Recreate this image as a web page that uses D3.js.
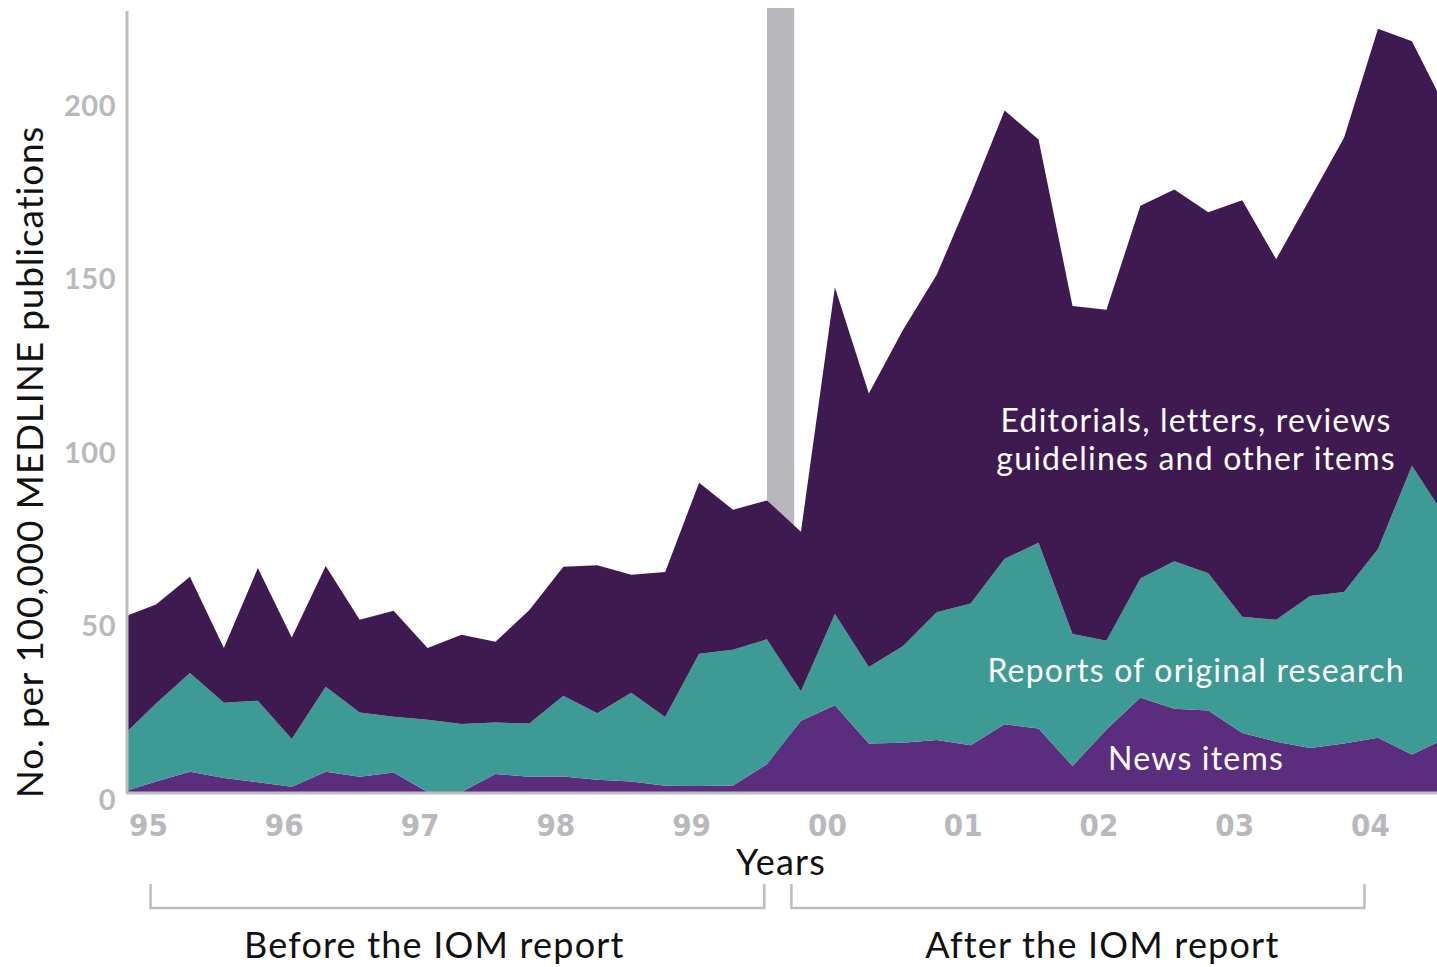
<!DOCTYPE html>
<html>
<head>
<meta charset="utf-8">
<script src="https://cdn.jsdelivr.net/npm/d3@7"></script>
<style>
  body { margin: 0; background: #fff; }
  svg text { font-family: Lato, "Open Sans", sans-serif; }
</style>
</head>
<body>
<div id="chart"></div>
<script>
// quarterly samples
const quarters = [
  "1994-Q4",
  "1995-Q1", "1995-Q2", "1995-Q3", "1995-Q4",
  "1996-Q1", "1996-Q2", "1996-Q3", "1996-Q4",
  "1997-Q1", "1997-Q2", "1997-Q3", "1997-Q4",
  "1998-Q1", "1998-Q2", "1998-Q3", "1998-Q4",
  "1999-Q1", "1999-Q2", "1999-Q3", "1999-Q4",
  "2000-Q1", "2000-Q2", "2000-Q3", "2000-Q4",
  "2001-Q1", "2001-Q2", "2001-Q3", "2001-Q4",
  "2002-Q1", "2002-Q2", "2002-Q3", "2002-Q4",
  "2003-Q1", "2003-Q2", "2003-Q3", "2003-Q4",
  "2004-Q1", "2004-Q2", "2004-Q3"
]

const news = [0, 3, 5.8, 4, 2.8, 1.5, 5.8, 4.4, 5.6, 0, 0, 5.2, 4.4, 4.5, 3.5, 3, 1.8, 1.7, 1.9, 8,
  20.5, 25, 14, 14.2, 15, 13.5, 19.5, 18.3, 7.5, 18, 27.2, 24, 23.5, 17, 14.5, 12.7, 14, 15.6, 10.8, 15.5]

const research = [16, 22.5, 28.5, 21.7, 23.5, 13.8, 24.5, 18.5, 16.1, 20.8, 19.6, 14.8, 15.3, 23.2, 19.2, 25.6, 19.8, 38.1, 39.1, 36,
  8.5, 26.3, 22, 27.8, 36.8, 40.8, 47.7, 53.5, 38, 25.6, 34.3, 42.5, 39.5, 33.5, 35.1, 43.8, 43.6, 54.4, 83.2, 63.5]

const other = [34.3, 28.5, 27.7, 15.8, 38.2, 29.2, 34.8, 26.7, 30.5, 20.7, 25.7, 23.3, 32.7, 37.2, 42.6, 34, 41.8, 49.3, 40.3, 40,
  46, 94.1, 78.8, 91, 97.2, 117.7, 129.1, 116.2, 94.5, 95.3, 107.4, 107.1, 104, 120, 103.9, 114.5, 130.9, 149.9, 122.3, 118]

const seriesKeys = ["news", "research", "other"]
const seriesNames = {
  news: ["News items"],
  research: ["Reports of original research"],
  other: ["Editorials, letters, reviews", "guidelines and other items"]
}
const yearTicks = [1995, 1996, 1997, 1998, 1999, 2000, 2001, 2002, 2003, 2004]
const valueTicks = [0, 50, 100, 150, 200]

// IOM report "To Err is Human" (late 1999)
const iomReport = [1999.5, 1999.7]
const periods = [
  { name: "Before the IOM report", from: 1994.96, to: 1999.48, labelAt: 1997.05 },
  { name: "After the IOM report", from: 1999.68, to: 2003.9, labelAt: 2001.97 }
]

const colors = { news: "#5b2d7f", research: "#3e9a94", other: "#3e1a50" }
const grey = "#bdbdc1"

const width = 1437
const height = 967
const plot = { left: 128, right: 1437, top: 11, bottom: 792 }

const rows = quarters.map((q, i) => {
  const [yr, qq] = q.split("-Q")
  return { t: +yr + (+qq - 1) / 4, news: news[i], research: research[i], other: other[i] }
})

const x = d3.scaleLinear().domain([1995, 2004]).range([156, 1378])
const y = d3.scaleLinear().domain([0, 225]).range([plot.bottom, plot.top])

const svg = d3.select("#chart").append("svg")
  .attr("width", width)
  .attr("height", height)

svg.append("defs").append("clipPath").attr("id", "plotclip")
  .append("rect")
  .attr("x", plot.left).attr("y", 0)
  .attr("width", plot.right - plot.left).attr("height", plot.bottom)

// grey marker for the report release, behind the areas
svg.append("rect")
  .attr("x", x(iomReport[0]))
  .attr("width", x(iomReport[1]) - x(iomReport[0]))
  .attr("y", 8)
  .attr("height", plot.bottom - 8)
  .attr("fill", "#b8b8bc")

const stacked = d3.stack().keys(seriesKeys)(rows)

const area = d3.area()
  .x(d => x(d.data.t))
  .y0(d => y(d[0]))
  .y1(d => y(d[1]))

svg.append("g")
  .attr("clip-path", "url(#plotclip)")
  .selectAll("path")
  .data(stacked)
  .join("path")
  .attr("fill", d => colors[d.key])
  .attr("d", area)

// axes
const yAxis = svg.append("g")
  .attr("transform", "translate(" + plot.left + ",8)")
  .call(d3.axisLeft(y).tickValues(valueTicks).tickSize(0).tickPadding(12))
yAxis.select(".domain").remove()
yAxis.selectAll("text")
  .attr("fill", "#b9b9bd")
  .attr("font-size", 29)
  .attr("font-weight", 700)
  .attr("letter-spacing", 0.5)
  .style("font-family", "Lato, sans-serif")

const xAxis = svg.append("g")
  .attr("transform", "translate(-8," + plot.bottom + ")")
  .call(d3.axisBottom(x).tickValues(yearTicks).tickSize(0).tickPadding(22)
    .tickFormat(d => String(d).slice(2)))
xAxis.select(".domain").remove()
xAxis.selectAll("text")
  .attr("fill", "#b9b9bd")
  .attr("font-size", 31)
  .attr("font-weight", 700)
  .style("font-family", "'Liberation Sans Narrow', 'DejaVu Sans Condensed', sans-serif")

svg.append("line")
  .attr("x1", plot.left - 1).attr("x2", plot.left - 1)
  .attr("y1", plot.top).attr("y2", plot.bottom + 1)
  .attr("stroke", grey).attr("stroke-width", 3)

svg.append("line")
  .attr("x1", plot.left - 2).attr("x2", plot.right)
  .attr("y1", plot.bottom + 1).attr("y2", plot.bottom + 1)
  .attr("stroke", grey).attr("stroke-width", 3)

// axis titles
svg.append("text")
  .attr("transform", "translate(43," + 462 + ") rotate(-90)")
  .attr("text-anchor", "middle")
  .attr("font-size", 37)
  .attr("letter-spacing", 0.8)
  .attr("fill", "#111")
  .text("No. per 100,000 MEDLINE publications")

svg.append("text")
  .attr("x", 781).attr("y", 875)
  .attr("text-anchor", "middle")
  .attr("font-size", 36)
  .attr("letter-spacing", 1.2)
  .attr("fill", "#111")
  .text("Years")

// before / after brackets
const bracket = svg.append("g").selectAll("g")
  .data(periods)
  .join("g")

bracket.append("path")
  .attr("fill", "none")
  .attr("stroke", grey)
  .attr("stroke-width", 2.5)
  .attr("d", d => "M" + x(d.from) + ",884V908H" + x(d.to) + "V884")

bracket.append("text")
  .attr("x", d => x(d.labelAt))
  .attr("y", 958)
  .attr("text-anchor", "middle")
  .attr("font-size", 36)
  .attr("letter-spacing", 1.2)
  .attr("fill", "#111")
  .text(d => d.name)

// labels inside the areas
const labelSpots = [
  { key: "other", t: 2002.66, v: 107.5 },
  { key: "research", t: 2002.66, v: 35.5 },
  { key: "news", t: 2002.66, v: 10 }
]

svg.append("g").selectAll("text")
  .data(labelSpots)
  .join("text")
  .attr("x", d => x(d.t))
  .attr("y", d => y(d.v))
  .attr("text-anchor", "middle")
  .attr("font-size", 32)
  .attr("letter-spacing", 1.2)
  .attr("fill", "#fff")
  .attr("dominant-baseline", "central")
  .selectAll("tspan")
  .data(d => seriesNames[d.key].map((s, i) => ({ s, i, x: x(d.t) })))
  .join("tspan")
  .attr("x", d => d.x)
  .attr("dy", d => d.i === 0 ? 0 : 38)
  .text(d => d.s)
</script>
</body>
</html>
